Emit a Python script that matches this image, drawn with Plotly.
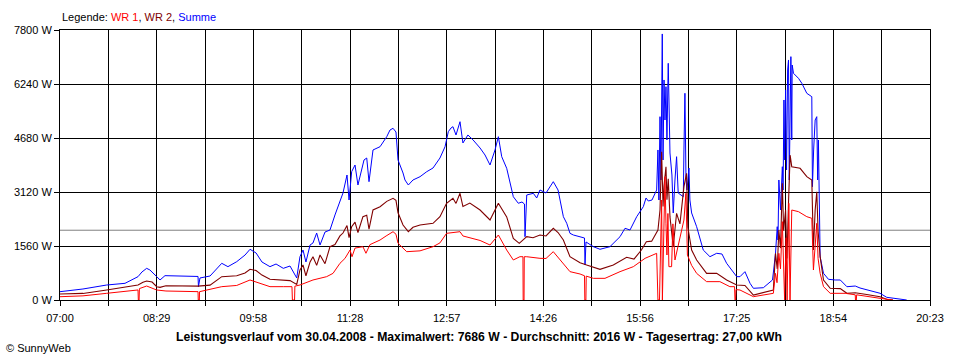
import plotly.graph_objects as go

# ---- data (minutes after 07:00, watts) ----
x_ticklabels = ["07:00", "08:29", "09:58", "11:28", "12:57", "14:26", "15:56", "17:25", "18:54", "20:23"]
y_ticks = [0, 1560, 3120, 4680, 6240, 7800]
average_w = 2016

summe_min = [0, 21.2, 43.1, 60, 72, 75.6, 80, 83, 89.3, 92.3, 96.9, 110.8, 127.4, 127.8, 129.2, 138.5,
             149.3, 155, 163.1, 170.8, 175.4, 181, 186.4, 193.8, 199.4, 206.1, 212.3, 218.5, 221.5, 224.3,
             227, 230.8, 233.5, 236.9, 240, 244.6, 249.2, 253.8, 258.4, 261.2, 264.9, 266.8, 269.2, 272.3,
             275, 276.9, 280.6, 283.1, 285.2, 288.9, 295.4, 301.6, 304.6, 307.4, 310.1, 312, 313.8, 316.6,
             318.4, 321.5, 325.8, 332.3, 338.5, 344.3, 350.7, 355.4, 358.4, 360.9, 362.7, 365.5, 369.2,
             371.9, 376.5, 381.3, 387.7, 392.3, 396.9, 401.5, 404.6, 407.7, 412.3, 418.4, 423, 426.4, 428.7,
             429.2, 430.8, 436.9, 440, 443, 448.6, 455.3, 459.7, 464.6, 467.7, 470.7, 473.8, 480, 484.1,
             484.6, 485.5, 492.3, 498.4, 507.6, 516.9, 521.5, 526.1, 532.3, 538.4, 540.9, 543, 546.4, 550.7,
             551.9, 552.8, 553.8, 554.7, 555.9, 556.6, 557.5, 558.4, 559.3, 560.2, 561.4, 562.1, 563, 564.8,
             566, 567.6, 569.1, 570.6, 573.1, 575.3, 575.9, 576.8, 577.8, 578.7, 580.5, 581.4, 583, 587.6,
             593.7, 599.9, 606.1, 611, 615.3, 620, 624.6, 627.6, 632.2, 636.9, 640, 649.2, 657.6, 658.7,
             660.4, 662, 662.7, 663.5, 665, 666.7, 667.4, 668.2, 668.8, 669.7, 670.6, 671.6, 672.4, 673.1,
             674.6, 675.4, 675.8, 677, 681.6, 684.7, 689.3, 693.9, 694.5, 695.6, 697, 698.5, 699.3, 700,
             700.7, 701.6, 704.7, 709.3, 715.5, 720.2, 726.3, 734, 738.4, 744.6, 756.9, 763, 775.3, 781.5]
summe_w = [240, 318, 433, 482, 674, 809, 915, 867, 674, 578, 703, 693, 680, 385, 636, 693,
           1060, 963, 1107, 1300, 1465, 1358, 1098, 963, 1040, 915, 982, 636, 1251, 1444,
           1098, 1589, 1647, 1935, 1589, 1964, 2022, 2456, 2889, 3091, 3611, 2889, 3707, 3900,
           3322, 3562, 4045, 4102, 3418, 4334, 4429, 4718, 4911, 4960, 4853, 4045, 3900, 3669,
           3467, 3322, 3467, 3562, 3707, 3813, 4102, 4429, 4862, 4969, 5007, 4767, 5151,
           4536, 4767, 4622, 4391, 4189, 3900, 4334, 4718, 4140, 3805, 2984, 2794, 2831, 2773,
           1829, 3034, 3082, 2947, 3178, 3091, 3418, 3178, 2407, 2216, 1927, 1878, 1829, 1791,
           1011, 1676, 1540, 1465, 1540, 1829, 2071, 2022, 2407, 2696, 2947, 2860, 2889, 3178,
           4334, 2889, 5296, 3467, 7686, 4045, 6356, 5200, 6163, 4622, 6838, 5489, 4247, 3611,
           2514, 3467, 4140, 3091, 3034, 2984, 4334, 5972, 3467, 3178, 3813, 2889, 2514, 2118,
           1444, 1251, 1349, 1329, 1060, 867, 674, 674, 818, 482, 338, 355, 578, 867,
           1349, 2118, 1733, 3467, 2600, 3851, 3178, 5778, 4045, 6067, 3756, 6645, 6934, 3467,
           7030, 4622, 6789, 6549, 6405, 6260, 5971, 5873, 3273, 4334, 5200, 5296, 3467, 4622,
           2889, 1251, 771, 598, 578, 578, 384, 404, 347, 289, 194, 78, 20, 0]

wr2_min = [0, 21.2, 43.1, 72, 76.6, 80, 85, 89.3, 92.3, 97.8, 127.4, 138.5, 149.3, 163.1, 170.8, 175.4,
           181, 186.4, 193.8, 206.1, 212.3, 218.5, 221.5, 224.3, 227, 230.8, 233.5, 236.9, 240, 244.6,
           249.2, 253.8, 258.4, 261.2, 264.9, 266.8, 269.2, 272.3, 275, 279.6, 283.1, 285.2, 288.9, 295.4,
           301.6, 307.4, 310.1, 312, 316.6, 321.5, 325.8, 332.3, 344.3, 350.7, 356.8, 362.7, 365.5, 369.2,
           371.9, 378.3, 387.7, 396.9, 401.5, 404.6, 412.3, 418.4, 423.9, 430.8, 436.6, 443, 448.6, 455.3,
           459.7, 464.6, 470.7, 480, 486.1, 498.4, 510.7, 523, 529.8, 536.6, 541.2, 546.1, 551.9, 553.8,
           555.3, 556.6, 557.5, 559.3, 560.2, 561.4, 563, 566, 569.1, 572.2, 575.9, 578.3, 579.5, 583,
           587.6, 596.8, 606.1, 615.3, 624.6, 632.2, 640, 658.4, 660.4, 662, 663.5, 665, 666.7, 667.9,
           669.7, 671, 672.4, 673.9, 675.4, 683.1, 689.3, 693.9, 695.4, 697, 698.5, 699.7, 701.6, 704.7,
           710.9, 720.2, 726.3, 734, 744.6, 756.9, 763, 768.8]
wr2_w = [173, 190, 290, 433, 510, 549, 520, 385, 365, 410, 400, 430, 674, 700, 780, 886,
         850, 720, 600, 578, 560, 450, 867, 1011, 700, 1100, 1251, 1000, 1300, 1050,
         1540, 1600, 1850, 1935, 2150, 1800, 2118, 2250, 1950, 2407, 2450, 2050, 2600, 2696,
         2850, 2937, 2880, 2520, 2167, 1973, 2100, 2167, 2215, 2407, 2793, 2938, 2790, 3082,
         2700, 2800, 2600, 2311, 2600, 2793, 2400, 1782, 1638, 1829, 1800, 1878, 1850, 2071,
         1950, 1733, 1251, 1078, 1011, 886, 1011, 1233, 1180, 1444, 1685, 1700, 2022, 2600,
         4285, 2700, 3300, 3851, 2900, 3500, 2400, 1540, 2504, 2200, 3274, 3660, 2100, 1444,
         1156, 770, 770, 578, 433, 420, 144, 289, 1348, 900, 2022, 1500, 3371, 2000,
         2600, 1200, 2800, 4189, 3851, 3804, 3563, 3467, 1444, 2600, 3129, 2000, 1251, 578,
         337, 330, 193, 210, 160, 96, 20, 0]

wr1_min = [0, 21.2, 43.1, 72.0, 72.3, 73.0, 73.3, 80, 89.3, 97.8, 127.4, 127.6, 128.6, 128.8, 149.3,
           163.1, 175.4, 186.4, 193.8, 206.1, 214.1, 214.5, 216.5, 216.8, 221.5, 233.5, 246.1, 252, 258.4,
           263, 267.7, 269.5, 272.3, 279.6, 282.4, 286.1, 295.4, 301, 307.4, 310.1, 312, 320, 332.3, 344.3,
           350.7, 356.8, 362.7, 369.2, 371.9, 378.3, 387.7, 396.9, 404.6, 412.3, 418.4, 424.5, 427.3, 427.5,
           428.3, 428.5, 430.8, 443, 448.6, 455.3, 464.6, 470.7, 480, 484.1, 484.4, 485.4, 485.7, 492.3,
           503, 516.9, 529.2, 540, 550.7, 551.9, 553.3, 554.2, 555.3, 556, 557, 558.4, 559.3, 560.2, 561.1,
           562, 564.5, 565.7, 567.6, 575.9, 577.7, 579.1, 583, 587.6, 596.8, 609.1, 618.3, 622.6, 623,
           623.5, 623.9, 627.6, 640, 658.4, 660.4, 661.8, 663.5, 665, 666.7, 667.9, 668.8, 670.2, 671.1,
           672.7, 673.8, 675.4, 681.6, 689.3, 693.9, 695.4, 697, 698.5, 699.7, 701.6, 704.7, 710.9, 724.7,
           734, 734.2, 735, 735.3, 744.6, 756.9, 768.8]
wr1_w = [95, 120, 193, 290, 0, 0, 330, 404, 289, 260, 241, 0, 0, 241, 385,
         420, 578, 450, 385, 385, 385, 0, 0, 400, 433, 578, 674, 770, 1060,
         1200, 1444, 1250, 1500, 1540, 1350, 1600, 1733, 1850, 1973, 1900, 1640, 1396, 1420, 1540,
         1650, 1926, 1950, 1973, 1850, 1800, 1720, 1589, 1878, 1444, 1156, 1251, 1251, 0,
         0, 1251, 1250, 1204, 1200, 1396, 1060, 819, 751, 700, 0, 0, 690, 626,
         626, 819, 963, 1204, 1348, 0, 0, 1800, 2889, 0, 1500, 3563, 2200, 1300, 2500,
         963, 963, 2200, 1156, 2311, 3082, 1300, 1000, 770, 530, 530, 385, 385, 0,
         0, 300, 289, 96, 193, 770, 500, 1348, 900, 2263, 1200, 0, 1800, 0,
         2793, 0, 2600, 2552, 2407, 2360, 867, 1700, 2215, 1200, 770, 385, 193, 193,
         150, 0, 0, 150, 100, 48, 0]

# ---- axis geometry ----
span_min = 803  # 07:00 -> 20:23
grid_vals = [i * span_min / 18 for i in range(19)]
grid_text = [x_ticklabels[i // 2] if i % 2 == 0 else "" for i in range(19)]

FONT = "Liberation Sans, Arial, sans-serif"

fig = go.Figure()
fig.add_trace(go.Scatter(x=summe_min, y=summe_w, mode="lines", name="Summe",
                         line=dict(color="#0000FF", width=1)))
fig.add_trace(go.Scatter(x=wr2_min, y=wr2_w, mode="lines", name="WR 2",
                         line=dict(color="#800000", width=1.1)))
fig.add_trace(go.Scatter(x=wr1_min, y=wr1_w, mode="lines", name="WR 1",
                         line=dict(color="#FF0000", width=1)))

fig.add_shape(type="line", xref="paper", yref="y", x0=0, x1=1, y0=average_w, y1=average_w,
              line=dict(color="#808080", width=1), layer="below")

fig.update_layout(
    width=960, height=360,
    margin=dict(l=60, r=30, t=30, b=60),
    paper_bgcolor="white", plot_bgcolor="white",
    showlegend=False,
    font=dict(family=FONT, size=11, color="black"),
    xaxis=dict(range=[0, span_min], tickvals=grid_vals, ticktext=grid_text,
               showgrid=True, gridcolor="black", gridwidth=1,
               showline=True, linecolor="black", linewidth=1, mirror=True,
               ticks="outside", ticklen=5, tickcolor="black", tickwidth=1,
               zeroline=False, tickfont=dict(size=11), ticklabelstandoff=3),
    yaxis=dict(range=[0, 7800], tickvals=y_ticks, ticktext=[f"{v} W" for v in y_ticks],
               showgrid=True, gridcolor="black", gridwidth=1,
               showline=True, linecolor="black", linewidth=1, mirror=True,
               ticks="outside", ticklen=5, tickcolor="black", tickwidth=1,
               zeroline=False, tickfont=dict(size=11)),
    annotations=[
        dict(xref="paper", yref="paper", x=0, y=(300 - 17) / 270, xanchor="left", yanchor="middle",
             showarrow=False, font=dict(size=11),
             text="Legende: <span style='color:#FF0000'>WR 1</span>, "
                  "<span style='color:#800000'>WR 2</span>, <span style='color:#0000FF'>Summe</span>"),
        dict(xref="paper", yref="paper", x=(479 - 60) / 870, y=(300 - 337) / 270,
             xanchor="center", yanchor="middle", showarrow=False, font=dict(size=12.2),
             text="<b>Leistungsverlauf vom 30.04.2008 - Maximalwert: 7686 W - Durchschnitt: 2016 W - Tagesertrag: 27,00 kWh</b>"),
        dict(xref="paper", yref="paper", x=(4 - 60) / 870, y=(300 - 348) / 270,
             xanchor="left", yanchor="middle", showarrow=False, font=dict(size=11),
             text="© SunnyWeb"),
    ],
)

fig.write_html("out.html", config={"displayModeBar": False},
               post_script="document.body.style.margin='0';document.body.style.overflow='hidden';")
